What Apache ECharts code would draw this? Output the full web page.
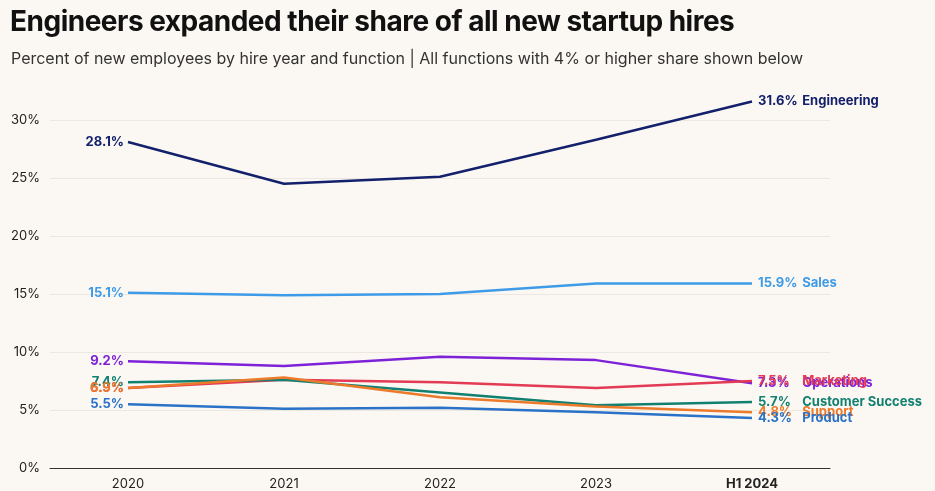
<!DOCTYPE html>
<html>
<head>
<meta charset="utf-8">
<script src="https://cdn.jsdelivr.net/npm/echarts@6/dist/echarts.min.js"></script>
<style>
  body { margin: 0; background: #fbf8f3; }
  #title { position: absolute; z-index: 2; left: 10px; top: 4px; font: 700 28px Inter, sans-serif; color: #111; letter-spacing: -0.5px; }
  #sub { position: absolute; z-index: 2; left: 11px; top: 48px; font: 400 16px Inter, sans-serif; color: #333; }
  #chart { position: absolute; left: 0; top: 0; width: 935px; height: 491px; }
</style>
</head>
<body>
<div id="chart"></div>
<div id="title">Engineers expanded their share of all new startup hires</div>
<div id="sub">Percent of new employees by hire year and function | All functions with 4% or higher share shown below</div>
<script>
var years = ['2020', '2021', '2022', '2023', 'H1 2024'];
var engineering = [28.1, 24.5, 25.1, 28.3, 31.6];
var sales = [15.1, 14.9, 15.0, 15.9, 15.9];
var operations = [9.2, 8.8, 9.6, 9.3, 7.3];
var marketing = [6.9, 7.6, 7.4, 6.9, 7.5];
var customerSuccess = [7.4, 7.6, 6.5, 5.4, 5.7];
var support = [6.9, 7.8, 6.1, 5.3, 4.8];
var product = [5.5, 5.1, 5.2, 4.8, 4.3];

// [name, data, colour, start label y-offset, end label y-offset]
var lines = [
    ['Engineering', engineering, '#13206b', 0, 0],
    ['Sales', sales, '#3e9be8', 0, 0],
    ['Operations', operations, '#7e22d8', -6, 2],
    ['Marketing', marketing, '#e33a55', -18, -7],
    ['Customer Success', customerSuccess, '#128071', -7, 0],
    ['Support', support, '#ec7a2a', -26, 0],
    ['Product', product, '#2a72c8', 4, 8]
];

var font = 'Inter, sans-serif';

var series = lines.map(function (l) {
    var data = l[1].map(function (v, i) {
        var d = { value: v };
        if (i === 0) {
            d.label = { show: true, position: 'left', distance: 4, offset: [0, l[3]],
                formatter: v.toFixed(1) + '%' };
        } else if (i === l[1].length - 1) {
            d.label = { show: true, position: 'right', distance: 6, offset: [0, l[4]],
                formatter: '{v|' + v.toFixed(1) + '%}  {n|' + l[0] + '}',
                rich: {
                    v: { color: l[2], fontWeight: 700, fontSize: 13, fontFamily: font, width: 38 },
                    n: { color: l[2], fontSize: 13, fontFamily: font }
                } };
        }
        return d;
    });
    return {
        name: l[0], type: 'line', data: data, symbol: 'circle', symbolSize: 0.1,
        showSymbol: true, color: l[2],
        lineStyle: { width: 2.5 },
        label: { show: false, color: l[2], fontWeight: 700, fontSize: 13, fontFamily: font },
        labelLayout: { hideOverlap: false }
    };
});

var myChart = echarts.init(document.getElementById('chart'));
myChart.setOption({
    backgroundColor: '#fbf8f3',
    animation: false,
    grid: { left: 50, right: 105, top: 62, bottom: 23 },
    xAxis: {
        type: 'category', data: years,
        axisLine: { lineStyle: { color: '#333' } },
        axisTick: { show: false },
        axisLabel: { color: '#222', fontSize: 13, fontFamily: font, margin: 10,
            formatter: function (v) { return v === 'H1 2024' ? '{b|' + v + '}' : v; },
            rich: { b: { fontWeight: 700, fontSize: 13, fontFamily: font, color: '#222' } } }
    },
    yAxis: {
        type: 'value', min: 0, max: 35, interval: 5,
        axisLabel: { color: '#222', fontSize: 13, fontFamily: font, margin: 10,
            formatter: function (v) { return v === 35 ? '' : v + '%'; } },
        splitLine: { showMaxLine: false, lineStyle: { color: '#ece8e1' } }
    },
    series: series
});
</script>
</body>
</html>
